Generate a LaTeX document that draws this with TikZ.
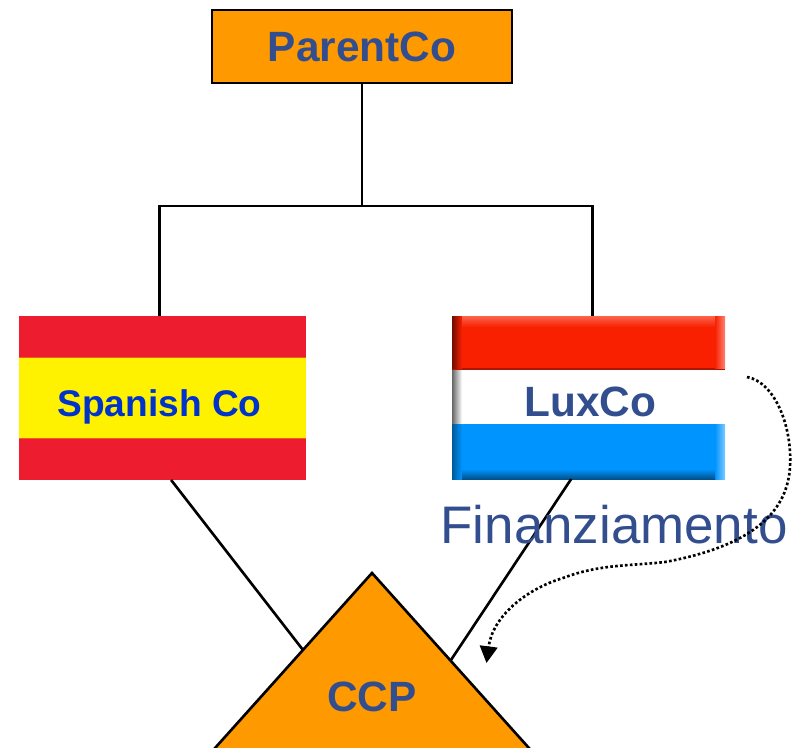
\documentclass[tikz,border=0pt]{standalone}
\usepackage{fontspec}
\setmainfont{Liberation Sans}
\usetikzlibrary{arrows.meta}
\definecolor{boxorange}{RGB}{255,153,0}
\definecolor{labelblue}{RGB}{51,78,142}
\definecolor{spanishblue}{RGB}{0,51,204}
\definecolor{spanishred}{RGB}{237,28,46}
\definecolor{spanishyellow}{RGB}{255,242,0}
\definecolor{luxred}{RGB}{249,32,0}
\definecolor{luxblue}{RGB}{0,148,255}
\tikzset{
  orgline/.style={line width=1.5pt,black},
  flagbox/.style={inner sep=0pt,outer sep=0pt},
  boldlabel/.style={font=\fontsize{24.1}{28}\selectfont\bfseries,text=labelblue}
}
\begin{document}
\begin{tikzpicture}
    \useasboundingbox (0,0) rectangle (15.84,14.94);

    % ParentCo in alto
    \node[draw,line width=1.5pt,fill=boxorange,boldlabel,minimum width=6cm,minimum height=1.46cm,inner sep=0pt] (parentco) at (7.24,14.01) {ParentCo};

    % bandiera spagnola
    \fill[spanishred] (0.38,5.34) rectangle (6.12,8.62);
    \fill[spanishyellow] (0.38,6.18) rectangle (6.12,7.8);
    \draw[spanishred!70!spanishyellow,line width=0.5pt] (0.38,6.18) -- (6.12,6.18);
    \draw[spanishred!70!spanishyellow,line width=0.5pt] (0.38,7.8) -- (6.12,7.8);
    \node[flagbox,minimum width=5.74cm,minimum height=3.28cm] (spanishflag) at (3.25,6.98) {};
    \node[anchor=base,inner sep=0pt,font=\fontsize{21.1}{25}\selectfont\bfseries,text=spanishblue] (spanishco) at (3.19,6.62) {Spanish Co};

    % bandiera lussemburghese
    \fill[luxred] (9.04,7.54) rectangle (14.5,8.62);
    \fill[white] (9.04,6.46) rectangle (14.5,7.54);
    \fill[luxblue] (9.04,5.36) rectangle (14.5,6.46);
    \draw[luxred!70!black,line width=0.6pt] (9.04,7.56) -- (14.5,7.56);
    % bordi sfumati
    \shade[left color=luxred!45!black,right color=luxred] (9.04,7.58) rectangle (9.24,8.62);
    \shade[left color=black!60,right color=white] (9.04,6.46) rectangle (9.24,7.54);
    \shade[left color=luxblue!60!black,right color=luxblue] (9.04,5.36) rectangle (9.24,6.46);
    \shade[left color=luxred,right color=luxred!55!white] (14.3,7.58) rectangle (14.5,8.62);
    \shade[left color=luxblue,right color=luxblue!50!white] (14.3,5.36) rectangle (14.5,6.46);
    \shade[top color=luxred!70!white,bottom color=luxred] (9.24,8.4) rectangle (14.3,8.62);
    \shade[top color=luxblue,bottom color=luxblue!55!black] (9.24,5.36) rectangle (14.3,5.56);
    \node[flagbox,minimum width=5.46cm,minimum height=3.26cm] (luxflag) at (11.77,6.99) {};
    \node[anchor=base,inner sep=0pt,boldlabel] (luxco) at (11.81,6.62) {LuxCo};

    % triangolo CCP
    \coordinate (ccptop) at (7.44,3.48);
    \coordinate (ccpleft) at (4.14,-0.2);
    \coordinate (ccpright) at (10.74,-0.2);
    \coordinate (ccpspanish) at (6.06,1.94);
    \coordinate (ccplux) at (9.02,1.74);
    \draw[orgline,fill=boxorange] (ccpleft) -- (ccptop) -- (ccpright);
    \node[boldlabel,inner sep=0pt] (ccp) at (7.44,1) {CCP};

    % linee di partecipazione
    \coordinate (split) at (7.24,10.82);
    \draw[orgline] (parentco.south) -- (split);
    \draw[orgline] (spanishflag.92.6) |- (split) -| (luxflag.87.8);
    \draw[orgline] (spanishflag.276.6) -- (ccpspanish);
    \draw[orgline] (luxflag.258) -- (ccplux);

    % finanziamento
    \node[anchor=base,inner sep=0pt,font=\fontsize{30.1}{36}\selectfont,text=labelblue] (finanziamento) at (12.28,4.08) {Finanziamento};
    \coordinate (loanstart) at (14.94,7.4);
    \coordinate (loanend) at (9.73,1.68);
    \draw[line width=1.5pt,dash pattern=on 1.5pt off 1.3pt,-{Triangle[length=9.5pt,width=10pt]}] (loanstart)
      .. controls (15.5,7.3) and (15.85,6.4) .. (15.8,5.6)
      .. controls (15.75,4.8) and (15.2,4.05) .. (13.3,3.7)
      .. controls (12.6,3.62) and (12,3.66) .. (11.26,3.38)
      .. controls (10.5,3.15) and (9.85,2.6) .. (loanend);
\end{tikzpicture}
\end{document}
